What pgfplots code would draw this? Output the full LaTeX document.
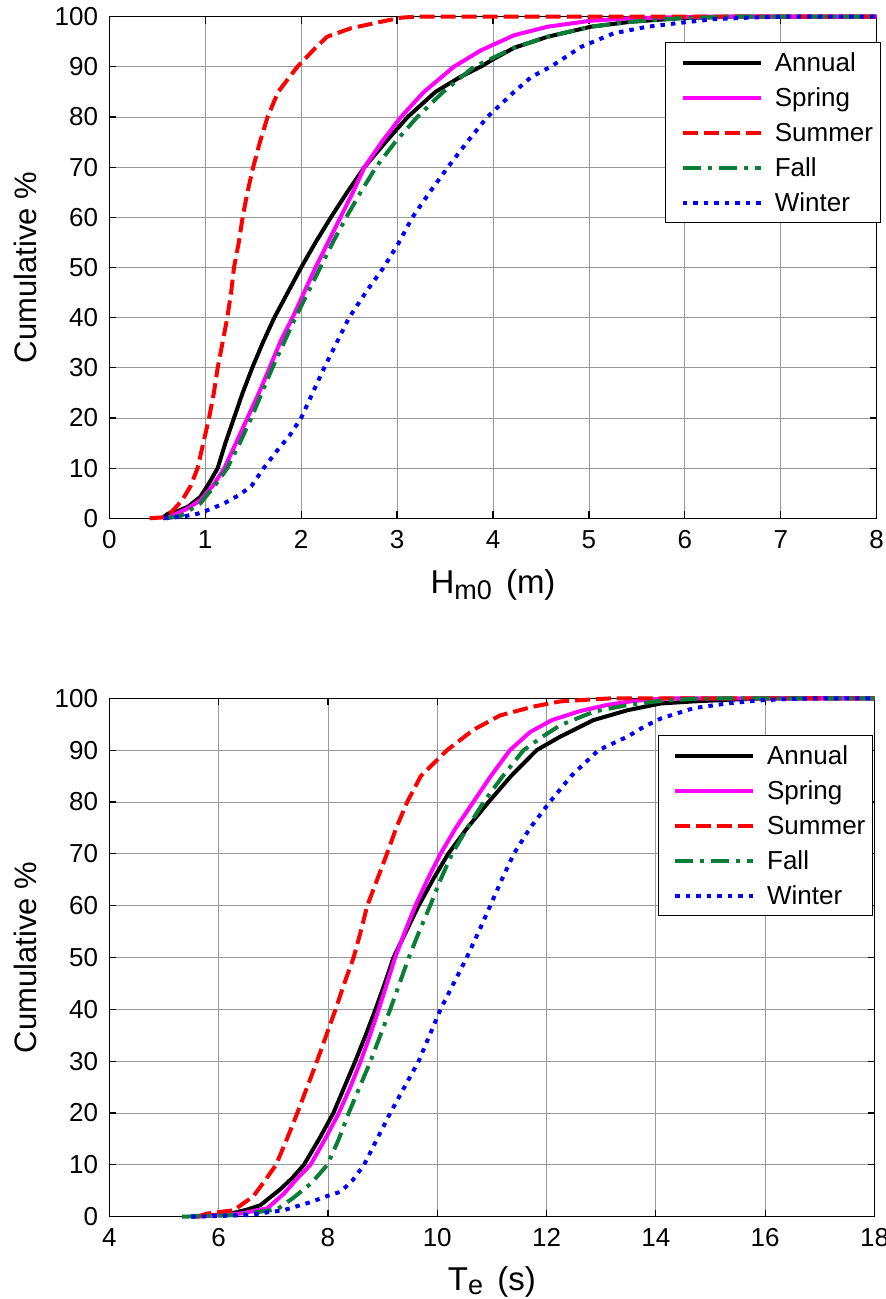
\documentclass[border=0pt]{standalone}
\usepackage{fontspec}
\setmainfont{Liberation Sans}
\usepackage{pgfplots}
\pgfplotsset{compat=1.18}
\definecolor{fallgreen}{RGB}{10,125,55}
\definecolor{springmag}{RGB}{255,0,255}
\pgfplotsset{
  mystyle/.style={
    scale only axis,
    axis line style={line width=1.5pt},
    tick pos=both, tick align=inside, major tick length=7pt,
    every tick/.style={black, line width=1.2pt},
    grid=major, major grid style={black!40, line width=0.8pt},
    ymin=0, ymax=100, ytick={0,10,...,100},
    clip=false,
    /pgf/number format/assume math mode=true,
    ticklabel style={font=\fontsize{26}{26}\selectfont, inner sep=0pt},
    xticklabel style={yshift=-11.7pt},
    yticklabel style={xshift=-11pt},
    ylabel={Cumulative \%},
    ylabel style={font=\fontsize{31}{31}\selectfont, at={(axis description cs:-0.0946,0.5)}, anchor=base},
    legend cell align=left,
    legend image code/.code={\path (0pt,0pt); \draw[##1] (7.7pt,0pt) -- (85.7pt,0pt);},
    legend style={draw=black, line width=1.2pt, inner sep=7.3pt,
      font=\fontsize{26}{26}\selectfont,
      nodes={inner sep=0pt, text height=22pt, text depth=3.4pt},
      row sep=9.6pt, column sep=12pt},
  },
  annual/.style={black, line width=4pt, line join=round},
  spring/.style={springmag, line width=4pt, line join=round},
  summer/.style={red, line width=4pt, dash pattern=on 15pt off 6pt, line join=round},
  fall/.style={fallgreen, line width=4pt, dash pattern=on 18pt off 7pt on 4pt off 7pt, line join=round},
  winter/.style={blue, line width=4pt, dash pattern=on 4.5pt off 6pt, line join=round},
}
\begin{document}
\begin{tikzpicture}[x=1pt,y=1pt]
\useasboundingbox (0,0) rectangle (886,1299);
% ---------------- Top: Hm0 ----------------
\begin{axis}[mystyle, at={(109.3pt,780.7pt)}, anchor=south west,
  width=767.4pt, height=501.6pt,
  xmin=0, xmax=8, xtick={0,1,...,8},
  xlabel={H\raisebox{-6pt}{\fontsize{27}{27}\selectfont m0}\hspace{5pt} (m)},
  xlabel style={font=\fontsize{33}{33}\selectfont, at={(axis description cs:0.5,-0.1509)}, anchor=base},
  legend style={at={(axis description cs:1.0056,0.9496)}, anchor=north east},
]
\addplot[annual] coordinates {
(0.55,0) (0.61,0.9) (0.72,1.5) (0.82,2.3) (0.95,4.3) (1.04,7) (1.13,10) (1.21,15) (1.3,20) (1.39,25) (1.49,30) (1.6,35) (1.72,40) (1.86,45) (2.0,50) (2.15,55) (2.31,60) (2.48,65) (2.66,70) (2.88,75) (3.11,80) (3.4,85) (3.66,88) (3.87,90) (4.0,91.5) (4.22,93.8) (4.57,96) (5.02,98) (5.44,99) (5.96,99.7) (6.5,100) (8,100)};
\addlegendentry{Annual}
\addplot[spring] coordinates {
(0.6,0) (0.71,1) (0.82,2) (0.95,3.6) (1.08,6.5) (1.2,10) (1.32,15) (1.44,20) (1.56,25) (1.67,30) (1.79,35.5) (1.91,40) (2.03,45) (2.15,50) (2.28,55) (2.41,60) (2.54,65) (2.66,70) (2.84,75) (3.04,80) (3.28,85) (3.59,90) (3.875,93.3) (4.22,96.3) (4.57,98) (5.02,99.2) (5.44,99.7) (5.96,99.9) (6.2,100) (8,100)};
\addlegendentry{Spring}
\addplot[summer] coordinates {
(0.42,0) (0.57,0.2) (0.66,1.5) (0.76,3.6) (0.85,6.5) (0.92,10) (0.98,15) (1.04,20) (1.09,25) (1.13,30) (1.18,35) (1.23,40) (1.27,45) (1.3,50) (1.35,55) (1.39,60) (1.44,65) (1.5,70) (1.57,75) (1.65,80) (1.76,85) (1.96,90) (2.14,93.6) (2.27,96) (2.52,97.7) (2.86,99.1) (3.04,99.8) (3.2,100) (8,100)};
\addlegendentry{Summer}
\addplot[fall] coordinates {
(0.6,0) (0.75,0.5) (0.95,3) (1.1,6.5) (1.23,10) (1.36,15) (1.48,20) (1.59,25) (1.7,30) (1.82,35) (1.94,40) (2.07,45) (2.2,50) (2.33,55) (2.47,60) (2.62,65) (2.78,70) (2.98,75) (3.21,80) (3.48,85) (3.8,90) (4.0,91.8) (4.22,93.8) (4.57,96) (5.02,98) (5.44,99) (5.96,99.7) (6.5,100) (8,100)};
\addlegendentry{Fall}
\addplot[winter] coordinates {
(0.57,0) (0.75,0.3) (0.92,0.9) (1.05,1.8) (1.2,3) (1.35,4.6) (1.48,6.4) (1.61,10) (1.75,13.5) (1.88,16.5) (2.0,20) (2.24,30) (2.5,40) (2.69,45.5) (2.86,50) (3.02,55) (3.16,60) (3.34,65) (3.53,70) (3.73,75) (3.94,80) (4.22,85) (4.4,88) (4.6,90) (4.92,94) (5.26,96.7) (5.61,98) (5.96,98.8) (6.3,99.5) (6.65,99.8) (7.0,100) (8,100)};
\addlegendentry{Winter}
\end{axis}
% ---------------- Bottom: Te ----------------
\begin{axis}[mystyle, at={(109.3pt,82.3pt)}, anchor=south west,
  width=765.2pt, height=518.4pt,
  xmin=4, xmax=18, xtick={4,6,...,18},
  xlabel={T\raisebox{-4pt}{\fontsize{27}{27}\selectfont e}\hspace{5pt} (s)},
  xlabel style={font=\fontsize{33}{33}\selectfont, at={(axis description cs:0.5,-0.142)}, anchor=base},
  legend style={at={(axis description cs:0.9984,0.9292)}, anchor=north east},
]
\addplot[annual] coordinates {
(5.5,0) (6.0,0.4) (6.28,0.75) (6.5,1.3) (6.76,2.2) (7.13,5.3) (7.35,7.5) (7.56,10) (7.84,15) (8.1,20) (8.3,25) (8.5,30) (8.69,35) (8.87,40) (9.04,45) (9.2,50) (9.43,55) (9.66,60) (9.92,65) (10.2,70) (10.55,75) (10.94,80) (11.35,85) (11.82,90) (12.25,92.6) (12.86,95.8) (13.48,97.7) (14.09,99) (14.69,99.4) (15.3,99.7) (16,100) (18,100)};
\addlegendentry{Annual}
\addplot[spring] coordinates {
(5.6,0) (6.4,0.6) (6.89,1.6) (7.19,4.4) (7.45,7.5) (7.68,10) (7.95,15) (8.2,20) (8.41,25) (8.6,30) (8.77,35) (8.93,40) (9.08,45) (9.23,50) (9.41,55) (9.6,60) (9.82,65) (10.06,70) (10.34,75) (10.66,80) (10.98,85) (11.33,90) (11.7,93.5) (12.1,95.8) (12.6,97.5) (13.1,98.7) (13.6,99.5) (14.09,99.9) (14.5,100) (18,100)};
\addlegendentry{Spring}
\addplot[summer] coordinates {
(5.6,0) (5.79,0.6) (6.28,1.25) (6.64,4) (6.85,7) (7.05,10) (7.25,15) (7.44,20) (7.62,25) (7.8,30) (7.97,35) (8.14,40) (8.3,45) (8.47,50) (8.6,55) (8.72,60) (8.9,65) (9.08,70) (9.25,75) (9.45,80) (9.7,85) (10.18,90) (10.66,93.9) (11.15,96.7) (11.76,98.4) (12.25,99.4) (12.86,99.8) (13.2,100) (18,100)};
\addlegendentry{Summer}
\addplot[fall] coordinates {
(5.33,0) (6.28,0.3) (7.07,1.4) (7.38,3.75) (7.7,6.5) (7.99,10) (8.2,15) (8.38,20) (8.58,25) (8.78,30) (8.96,35) (9.14,40) (9.31,45) (9.48,50) (9.67,55) (9.87,60) (10.06,65) (10.27,70) (10.55,75) (10.85,80) (11.2,85) (11.58,90) (11.94,92.7) (12.25,94.8) (12.86,97.4) (13.48,98.7) (14.09,99.5) (14.69,99.9) (15.2,100) (18,100)};
\addlegendentry{Fall}
\addplot[winter] coordinates {
(5.5,0) (6.52,0.3) (7.19,1.25) (7.68,2.8) (7.99,4) (8.23,4.8) (8.45,7) (8.66,10) (8.9,15) (9.14,20) (9.4,25) (9.66,30) (9.86,35) (10.06,40) (10.3,45) (10.54,50) (10.76,55) (10.97,60) (11.18,65) (11.4,70) (11.7,75) (12.06,80) (12.45,85) (12.95,90) (13.48,92.6) (13.78,94.5) (14.09,96.1) (14.69,98.1) (15.3,99) (15.9,99.6) (16.5,99.9) (17.1,100) (18,100)};
\addlegendentry{Winter}
\end{axis}
\end{tikzpicture}
\end{document}
